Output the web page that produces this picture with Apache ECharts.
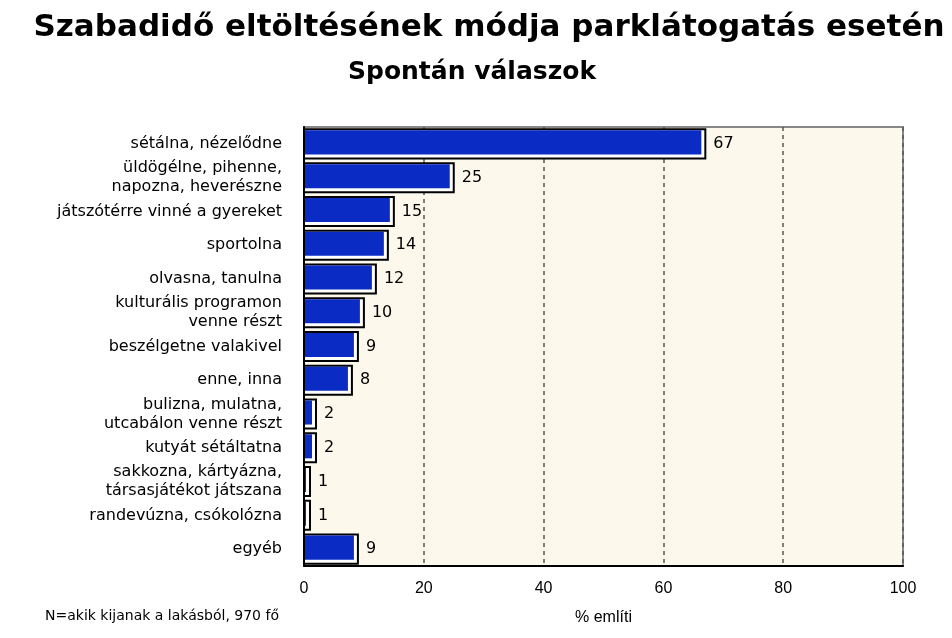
<!DOCTYPE html>
<html><head><meta charset="utf-8">
<script src="https://cdn.jsdelivr.net/npm/echarts@6/dist/echarts.min.js"></script>
<style>html,body{margin:0;padding:0;background:#fff}#c{width:952px;height:638px}</style>
</head><body><div id="c"></div>
<script>
const categories = [
  'sétálna, nézelődne',
  'üldögélne, pihenne,\nnapozna, heverészne',
  'játszótérre vinné a gyereket',
  'sportolna',
  'olvasna, tanulna',
  'kulturális programon\nvenne részt',
  'beszélgetne valakivel',
  'enne, inna',
  'bulizna, mulatna,\nutcabálon venne részt',
  'kutyát sétáltatna',
  'sakkozna, kártyázna,\ntársasjátékot játszana',
  'randevúzna, csókolózna',
  'egyéb'
];
const values = [67, 25, 15, 14, 12, 10, 9, 8, 2, 2, 1, 1, 9];
const xTicks = [0, 20, 40, 60, 80, 100];

const font = '"Liberation Sans", Arial, sans-serif';
const wide = '"DejaVu Sans", Verdana, sans-serif';
const chart = echarts.init(document.getElementById('c'), null, {renderer: 'canvas'});
chart.setOption({
  animation: false,
  backgroundColor: '#ffffff',
  title: [
    {text: 'Szabadidő eltöltésének módja parklátogatás esetén', left: 484, top: 7, textAlign: 'center',
     textStyle: {fontFamily: wide, fontWeight: 'bold', fontSize: 31, color: '#000'}},
    {text: 'Spontán válaszok', left: 467, top: 55, textAlign: 'center',
     textStyle: {fontFamily: wide, fontWeight: 'bold', fontSize: 25, color: '#000'}},
    {text: 'N=akik kijanak a lakásból, 970 fő', left: 40, top: 604,
     textStyle: {fontFamily: wide, fontWeight: 'normal', fontSize: 14, color: '#000'}}
  ],
  grid: {left: 304, right: 49, top: 127, bottom: 72, show: true, backgroundColor: '#fdf8ec', borderColor: '#888', borderWidth: 2},
  xAxis: {
    type: 'value', min: 0, max: 100, interval: 20,
    name: '% említi', nameLocation: 'middle', nameGap: 44,
    nameTextStyle: {fontFamily: font, fontSize: 16, color: '#000'},
    axisLine: {show: true, lineStyle: {color: '#000', width: 2}},
    axisTick: {show: false},
    axisLabel: {margin: 15, fontFamily: font, fontSize: 16, color: '#000',
      formatter: v => xTicks.includes(v) ? String(v) : ''},
    splitLine: {show: true, lineStyle: {color: '#555', type: [4, 4], width: 1.5}}
  },
  yAxis: {
    type: 'category', data: categories, inverse: true,
    axisLine: {show: true, lineStyle: {color: '#000', width: 2}},
    axisTick: {show: false},
    axisLabel: {margin: 22, fontFamily: wide, fontSize: 16, color: '#000', lineHeight: 19}
  },
  series: [{
    type: 'custom',
    data: values.map((v, i) => [v, i]),
    encode: {x: 0, y: 1},
    renderItem: function (params, api) {
      const v = api.value(0), idx = api.value(1);
      const s = api.coord([0, idx]);
      const e = api.coord([v, idx]);
      const band = api.size([0, 1])[1];
      const h = band * 0.86;
      const top = s[1] - h / 2;
      const w = e[0] - s[0];
      return {
        type: 'group',
        children: [
          {type: 'rect', shape: {x: s[0], y: top, width: w, height: h},
           style: {fill: '#ffffff', stroke: '#000', lineWidth: 2}},
          {type: 'rect', shape: {x: s[0] + 1, y: top + 1, width: Math.max(w - 5, 0), height: h - 5},
           style: {fill: '#0a2bc4'}},
          {type: 'text', x: e[0] + 8, y: s[1],
           style: {text: String(v), fill: '#000', fontSize: 16, fontFamily: wide, verticalAlign: 'middle', align: 'left'}}
        ]
      };
    }
  }]
});
</script></body></html>
